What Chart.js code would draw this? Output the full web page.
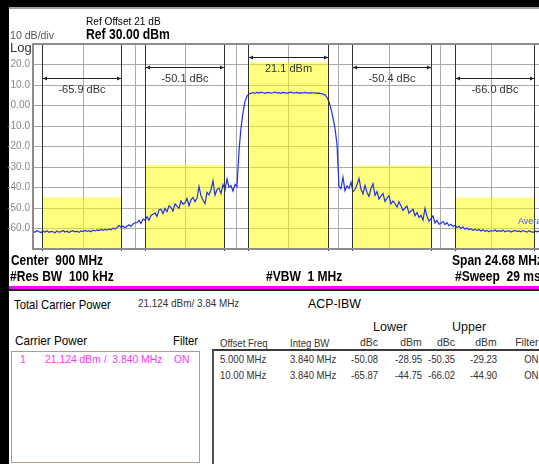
<!DOCTYPE html>
<html>
<head>
<meta charset="utf-8">
<script src="https://cdn.jsdelivr.net/npm/chart.js@4.4.1/dist/chart.umd.min.js"></script>
<style>
  body { margin: 0; width: 539px; height: 464px; overflow: hidden; background: #fff; position: relative; font-family: "Liberation Sans", Arial, sans-serif; }
  .t { position: absolute; white-space: pre; line-height: 1; transform-origin: left center; }
  .t.r { transform-origin: right center; }
  .blk { position: absolute; }
  #plot { position: absolute; left: 0; top: 0; }
</style>
</head>
<body>
<div class="blk" style="left:0;top:0;width:539px;height:7px;background:#000"></div>
<div class="blk" style="left:0;top:7px;width:539px;height:1.5px;background:#a0a0a0"></div>
<div class="blk" style="left:0;top:0;width:9px;height:464px;background:#000"></div>
<div class="blk" style="left:9px;top:286px;width:530px;height:3px;background:#ff00ff"></div>
<div class="blk" style="left:9px;top:289px;width:530px;height:2px;background:#202030"></div>
<div class="blk" style="left:11px;top:351px;width:187px;height:110px;border:1.5px solid #ab9d8f"></div>
<div class="blk" style="left:212px;top:349px;width:340px;height:120px;border-top:2px solid #3a3a3a;border-left:2px solid #505050"></div>
<canvas id="plot" width="560" height="260"></canvas>
<script>
// analyzer settings
const centerFreq = 900;
const spanFreq = 24.68;
const refLevel = 30;
const bottomLevel = -70;
const carrierBw = 3.84;
const carrierPower = 21.124;

// ACP results
const offsetFreqs = [5, 10];
const offsetLabels = ['5.000 MHz', '10.00 MHz'];
const integBwLabels = ['3.840 MHz', '3.840 MHz'];
const lowerDbc = [-50.08, -65.87];
const lowerDbm = [-28.95, -44.75];
const upperDbc = [-50.35, -66.02];
const upperDbm = [-29.23, -44.90];
const filterState = ['ON', 'ON'];

// y axis labels
const yTickValues = [20, 10, 0, -10, -20, -30, -40, -50, -60];
const yTickLabels = ['20.0', '10.0', '0.00', '-10.0', '-20.0', '-30.0', '-40.0', '-50.0', '-60.0'];

// trace in dBm, sweep points evenly spread over the span
const traceDbm = [
  -61.2, -61.8, -61.0, -61.6, -62.0, -61.3, -61.7, -61.1, -61.9, -61.4,
  -61.6, -62.1, -61.2, -61.8, -61.5, -61.0, -61.7, -61.3, -62.0, -61.4,
  -61.1, -61.6, -61.3, -61.9, -61.2, -61.5, -60.9, -61.4, -61.1, -61.6,
  -60.8, -61.2, -60.7, -61.0, -60.5, -60.9, -60.4, -60.8, -60.2, -60.6,
  -59.8, -60.3, -59.5, -58.6,
  -59.4, -58.8, -59.6, -58.9, -58.2, -59.0, -57.8, -57.2,
  -57.2, -56.0, -57.6, -55.4, -55.9, -54.2, -56.0, -53.6, -53.0,
  -52.4, -54.1, -51.0, -50.6, -52.7, -50.2, -51.8, -49.0, -49.7, -51.5,
  -48.0, -49.2, -50.2, -46.6, -48.1, -47.5, -45.4, -48.9, -46.0, -44.8,
  -46.9, -45.3, -39.5, -44.0, -46.2, -47.8, -42.4, -43.6, -41.1, -36.8,
  -43.8, -41.0, -40.3, -42.9, -38.6, -41.2, -35.8, -40.0, -39.2, -41.8,
  -38.5, -39.6,
  -22.0, -11.0, -3.5, 2.0, 4.6, 5.6, 6.0,
  6.3, 6.0, 6.4, 6.1, 6.5, 6.2, 5.9, 6.3, 6.4, 6.0,
  6.2, 6.5, 6.1, 6.3, 5.9, 6.4, 6.2, 6.0, 6.3, 6.5,
  6.1, 6.2, 6.4, 5.9, 6.3, 6.1, 6.4, 6.2, 6.0, 6.3,
  6.1, 6.2, 5.9, 6.0, 5.8, 5.6,
  5.2, 3.9, 1.8, -1.6, -6.0, -11.2, -19.0, -39.5,
  -40.6, -35.0, -41.6, -39.2, -40.4, -37.4, -42.1, -41.0, -38.6, -35.6,
  -40.8, -43.1, -39.0, -42.4, -44.3, -40.5, -38.2, -43.9, -42.0, -45.6,
  -44.2, -43.0, -46.8, -45.2, -44.0, -48.1, -46.6, -47.8, -49.6, -47.0,
  -48.9, -51.2, -50.0, -49.1, -52.6, -51.4, -50.6, -53.8, -52.2, -54.6,
  -53.6, -55.9, -50.2, -54.0, -56.4, -55.2, -53.8, -57.3, -56.0, -57.9,
  -57.4, -56.6, -58.1, -57.2, -58.6, -57.9, -59.0, -58.4, -59.5, -58.9,
  -60.0, -59.3, -60.4, -59.8, -60.6, -60.1, -60.9, -60.3, -61.0, -60.5,
  -61.2, -60.6, -61.4, -60.9, -61.6, -61.0, -61.3, -60.7, -61.5, -61.1,
  -61.4, -60.8, -61.6, -61.2, -61.0, -61.7, -61.3, -60.9, -61.5, -61.2,
  -61.6, -61.0, -61.4, -61.8, -61.1, -61.5, -61.9, -61.3, -61.6, -61.2, -61.7, -61.4
];

const startFreq = centerFreq - spanFreq / 2;
const stopFreq = centerFreq + spanFreq / 2;

// integration bands: carrier plus lower/upper for every offset
let bands = [{
    lo: centerFreq - carrierBw / 2, hi: centerFreq + carrierBw / 2,
    power: carrierPower, label: carrierPower.toFixed(1) + ' dBm', level: 0
}];
offsetFreqs.forEach((off, k) => {
    bands.push({
        lo: centerFreq - off - carrierBw / 2, hi: centerFreq - off + carrierBw / 2,
        power: lowerDbm[k], label: lowerDbc[k].toFixed(1) + ' dBc', level: k + 1
    });
    bands.push({
        lo: centerFreq + off - carrierBw / 2, hi: centerFreq + off + carrierBw / 2,
        power: upperDbm[k], label: upperDbc[k].toFixed(1) + ' dBc', level: k + 1
    });
});

const labelRows = [13, 23, 34];

const acpOverlay = {
    id: 'acpOverlay',
    afterDatasetsDraw(chart) {
        const ctx = chart.ctx;
        const a = chart.chartArea;
        const x = chart.scales.x;
        ctx.save();
        // band edge markers
        ctx.strokeStyle = '#333';
        ctx.lineWidth = 1;
        bands.forEach(b => {
            [b.lo, b.hi].forEach(f => {
                let px = Math.round(x.getPixelForValue(f)) + 0.5;
                ctx.beginPath();
                ctx.moveTo(px, a.top);
                ctx.lineTo(px, a.bottom + 2);
                ctx.stroke();
            });
        });
        // width arrows with the band result
        ctx.font = '11px "Liberation Sans"';
        ctx.textAlign = 'center';
        ctx.textBaseline = 'middle';
        bands.forEach(b => {
            let x0 = Math.round(x.getPixelForValue(b.lo)) + 1;
            let x1 = Math.round(x.getPixelForValue(b.hi));
            let yy = a.top + labelRows[b.level] + 0.5;
            ctx.strokeStyle = '#222';
            ctx.fillStyle = '#222';
            ctx.beginPath();
            ctx.moveTo(x0, yy);
            ctx.lineTo(x1, yy);
            ctx.stroke();
            ctx.beginPath();
            ctx.moveTo(x0, yy); ctx.lineTo(x0 + 4, yy - 2); ctx.lineTo(x0 + 4, yy + 2); ctx.closePath();
            ctx.moveTo(x1, yy); ctx.lineTo(x1 - 4, yy - 2); ctx.lineTo(x1 - 4, yy + 2); ctx.closePath();
            ctx.fill();
            ctx.fillStyle = '#333';
            ctx.fillText(b.label, (x0 + x1) / 2, yy + 11);
        });
        ctx.fillStyle = '#3a50ff';
        ctx.font = '9px "Liberation Sans"';
        ctx.textAlign = 'left';
        ctx.fillText('Average', a.right - 25, a.bottom - 27);
        // frame
        ctx.strokeStyle = '#8c8c8c';
        ctx.lineWidth = 2;
        ctx.strokeRect(a.left, a.top, a.width, a.height);
        ctx.restore();
    }
};

let datasets = [{
    data: traceDbm.map((v, i) => ({ x: startFreq + i * spanFreq / (traceDbm.length - 1), y: v })),
    borderColor: '#2030f0',
    borderWidth: 1.2,
    pointRadius: 0,
    fill: false
}];
bands.forEach(b => {
    datasets.push({
        data: [{ x: b.lo, y: b.power }, { x: b.hi, y: b.power }],
        borderWidth: 0,
        pointRadius: 0,
        backgroundColor: 'rgba(255, 255, 0, 0.5)',
        fill: 'start'
    });
});

new Chart(document.getElementById('plot'), {
    type: 'line',
    data: { datasets },
    options: {
        responsive: false,
        animation: false,
        events: [],
        layout: { padding: { top: 44, right: 17, bottom: 11, left: 0 } },
        plugins: { legend: { display: false }, tooltip: { enabled: false } },
        scales: {
            x: {
                type: 'linear',
                min: startFreq,
                max: stopFreq,
                afterBuildTicks: s => {
                    s.ticks = Array.from({ length: 11 }, (_, k) => ({ value: startFreq + k * spanFreq / 10 }));
                },
                afterFit: s => { s.height = 0; },
                ticks: { display: false },
                grid: { color: '#ababab', drawTicks: false },
                border: { color: '#8c8c8c', width: 2 }
            },
            y: {
                min: bottomLevel,
                max: refLevel,
                afterFit: s => { s.width = 33; },
                ticks: {
                    stepSize: 10,
                    padding: 3,
                    color: '#8a8a8a',
                    font: { family: 'Liberation Sans', size: 10 },
                    callback: v => {
                        let i = yTickValues.indexOf(v);
                        return i >= 0 ? yTickLabels[i] : '';
                    }
                },
                grid: { color: '#ababab', drawTicks: false },
                border: { color: '#8c8c8c', width: 2 }
            }
        }
    },
    plugins: [acpOverlay]
});

// text around the plot
function text(str, x, cy, size, opts = {}) {
    let d = document.createElement('div');
    d.className = 't' + (opts.right ? ' r' : '');
    d.textContent = str;
    d.style.fontSize = size + 'px';
    d.style.top = (cy - size * 0.5) + 'px';
    if (opts.right) d.style.right = (539 - x) + 'px'; else d.style.left = x + 'px';
    d.style.color = opts.color || '#000';
    if (opts.bold) d.style.fontWeight = 'bold';
    d.style.transform = 'scaleX(' + (opts.sx || 0.88) + ')';
    document.body.appendChild(d);
}

text('Ref Offset 21 dB', 86, 21.5, 11.5);
text('Ref ' + refLevel.toFixed(2) + ' dBm', 86, 34.3, 14, { bold: true, sx: 0.87 });
text('10 dB/div', 10, 35.5, 11.5, { color: '#555', sx: 0.92 });
text('Log', 10, 47, 13, { color: '#333', sx: 1 });

text('Center  ' + centerFreq + ' MHz', 11, 260, 14, { bold: true, sx: 0.85 });
text('#Res BW  100 kHz', 10, 275.5, 14, { bold: true, sx: 0.86 });
text('#VBW  1 MHz', 266, 275.5, 14, { bold: true, sx: 0.86 });
text('Span ' + spanFreq.toFixed(2) + ' MHz', 452, 260, 14, { bold: true, sx: 0.86 });
text('#Sweep  29 ms', 455, 275.5, 14, { bold: true, sx: 0.86 });

text('Total Carrier Power', 14, 304, 13, { sx: 0.87 });
text(carrierPower.toFixed(3) + ' dBm/ ' + carrierBw.toFixed(2) + ' MHz', 138, 303, 11, { color: '#333', sx: 0.9 });
text('ACP-IBW', 308, 303, 13, { sx: 0.95 });

text('Carrier Power', 15, 340, 13, { sx: 0.9 });
text('Filter', 173, 340, 13, { sx: 0.87 });
text('1', 20, 359.5, 11.5, { color: '#ff33ff', sx: 0.9 });
text(carrierPower.toFixed(3) + ' dBm /  ' + carrierBw.toFixed(3) + ' MHz', 45, 359.5, 11.5, { color: '#ff33ff', sx: 0.9 });
text('ON', 174, 359.5, 11.5, { color: '#ff33ff', sx: 0.9 });

text('Lower', 373, 327, 12.5, { color: '#111', sx: 1 });
text('Upper', 452, 327, 12.5, { color: '#111', sx: 1 });
text('Offset Freq', 220, 343, 11, { color: '#333', sx: 0.87 });
text('Integ BW', 290, 343, 11, { color: '#333', sx: 0.87 });
const colRight = [378, 422, 455, 497, 538];
['dBc', 'dBm', 'dBc', 'dBm', 'Filter'].forEach((h, c) => text(h, colRight[c], 342, 11, { color: '#333', right: true, sx: 0.95 }));

offsetFreqs.forEach((off, k) => {
    let cy = 359.5 + k * 15.5;
    text(offsetLabels[k], 220, cy, 11, { color: '#333', sx: 0.87 });
    text(integBwLabels[k], 290, cy, 11, { color: '#333', sx: 0.87 });
    [lowerDbc[k], lowerDbm[k], upperDbc[k], upperDbm[k]].forEach((v, c) =>
        text(v.toFixed(2), colRight[c], cy, 11, { color: '#333', right: true, sx: 0.87 }));
    text(filterState[k], colRight[4], cy, 11, { color: '#333', right: true, sx: 0.87 });
});
</script>
</body>
</html>
